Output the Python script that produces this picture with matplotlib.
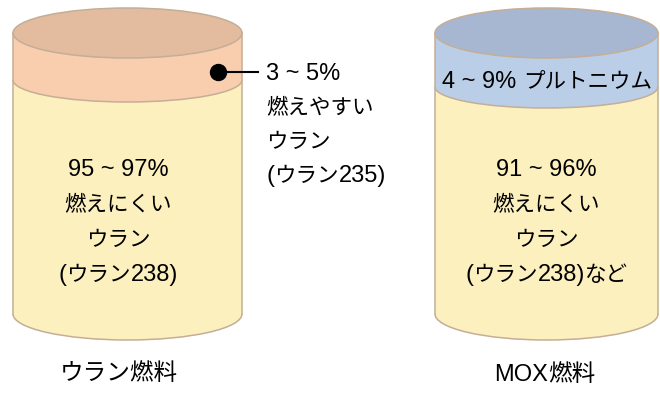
import matplotlib
matplotlib.use("Agg")
import matplotlib.pyplot as plt
from matplotlib.patches import Ellipse, Rectangle, Arc
from matplotlib.lines import Line2D

# --- content ---
fuel_names = ["ウラン燃料", "MOX燃料"]
callout_lines = ["3 ~ 5%", "燃えやすい", "ウラン", "(ウラン235)"]
mox_top_label = "4 ~ 9% プルトニウム"
body_lines = [["95 ~ 97%", "燃えにくい", "ウラン", "(ウラン238)"],
              ["91 ~ 96%", "燃えにくい", "ウラン", "(ウラン238)など"]]
top_colors = ["#E3BB9E", "#A7B7D2"]
band_colors = ["#F9CEAF", "#BBCEE8"]
body_color = "#FCF0BE"
edge_color = "#C4AE96"

W, H = 660, 393
fig = plt.figure(figsize=(W / 100, H / 100), dpi=100)
ax = fig.add_axes([0, 0, 1, 1])
ax.set_xlim(0, W)
ax.set_ylim(H, 0)
ax.axis('off')
renderer = fig.canvas.get_renderer()

LATIN = dict(family=['Liberation Sans', 'DejaVu Sans'], size=17)
CJK = dict(family=['Noto Sans CJK JP', 'DejaVu Sans'], size=15.5)

def is_cjk(ch):
    return ord(ch) >= 0x3000

def runs(s):
    out = []
    for ch in s:
        k = is_cjk(ch)
        if out and out[-1][0] == k:
            out[-1][1] += ch
        else:
            out.append([k, ch])
    return out

def mixed_text(x, y, s, ha='center', cjk_size=None, zorder=8):
    parts = []
    total = 0
    for k, seg in runs(s):
        props = dict(CJK if k else LATIN)
        if k and cjk_size:
            props['size'] = cjk_size
        t = ax.text(0, y, seg, fontfamily=props['family'], fontsize=props['size'],
                    va='baseline', ha='left', zorder=zorder)
        w = t.get_window_extent(renderer).width
        parts.append((t, w))
        total += w
    x0 = x - total / 2 if ha == 'center' else x
    for t, w in parts:
        t.set_x(x0)
        x0 += w

# geometry (pixels)
cyl = [
    dict(cx=127.5, a=114.5, yt=33, bt=25, yb=80, bb=22, ybot=314, bbot=26),
    dict(cx=546.5, a=111.5, yt=33, bt=25, yb=87, bb=21, ybot=314, bbot=26),
]

def draw_cyl(g, top_c, band_c):
    cx, a = g['cx'], g['a']
    w = 2 * a
    lw = 1.1
    ax.add_patch(Rectangle((cx - a, g['yt']), w, g['ybot'] - g['yt'], fc=body_color, ec='none', zorder=1))
    ax.add_patch(Ellipse((cx, g['ybot']), w, 2 * g['bbot'], fc=body_color, ec='none', zorder=1))
    ax.add_patch(Arc((cx, g['ybot']), w, 2 * g['bbot'], theta1=0, theta2=180, ec=edge_color, lw=lw, zorder=2))
    ax.add_patch(Rectangle((cx - a, g['yt']), w, g['yb'] - g['yt'], fc=band_c, ec='none', zorder=3))
    ax.add_patch(Ellipse((cx, g['yb']), w, 2 * g['bb'], fc=band_c, ec='none', zorder=3))
    ax.add_patch(Arc((cx, g['yb']), w, 2 * g['bb'], theta1=0, theta2=180, ec=edge_color, lw=lw, zorder=4))
    for x in (cx - a, cx + a):
        ax.add_line(Line2D([x, x], [g['yt'], g['ybot']], color=edge_color, lw=lw, zorder=4))
    ax.add_patch(Ellipse((cx, g['yt']), w, 2 * g['bt'], fc=top_c, ec=edge_color, lw=lw, zorder=5))

for g, tc, bc in zip(cyl, top_colors, band_colors):
    draw_cyl(g, tc, bc)

# callout for uranium-235
ax.plot([218, 258], [72, 72], color='black', lw=1.5, zorder=6)
ax.plot([218], [72], 'o', color='black', ms=11.5, zorder=7)
for i, line in enumerate(callout_lines):
    mixed_text(266, 80 + 34 * i, line, ha='left')

# MOX top label
mixed_text(547, 88, mox_top_label)

# body labels
text_cx = [118, 546.5]
for cx, lines in zip(text_cx, body_lines):
    for i, line in enumerate(lines):
        mixed_text(cx, 176 + 35 * i, line)

# fuel names
mixed_text(119, 380, fuel_names[0], cjk_size=17)
mixed_text(545, 381, fuel_names[1], cjk_size=17)

fig.savefig("out.png", dpi=100)
